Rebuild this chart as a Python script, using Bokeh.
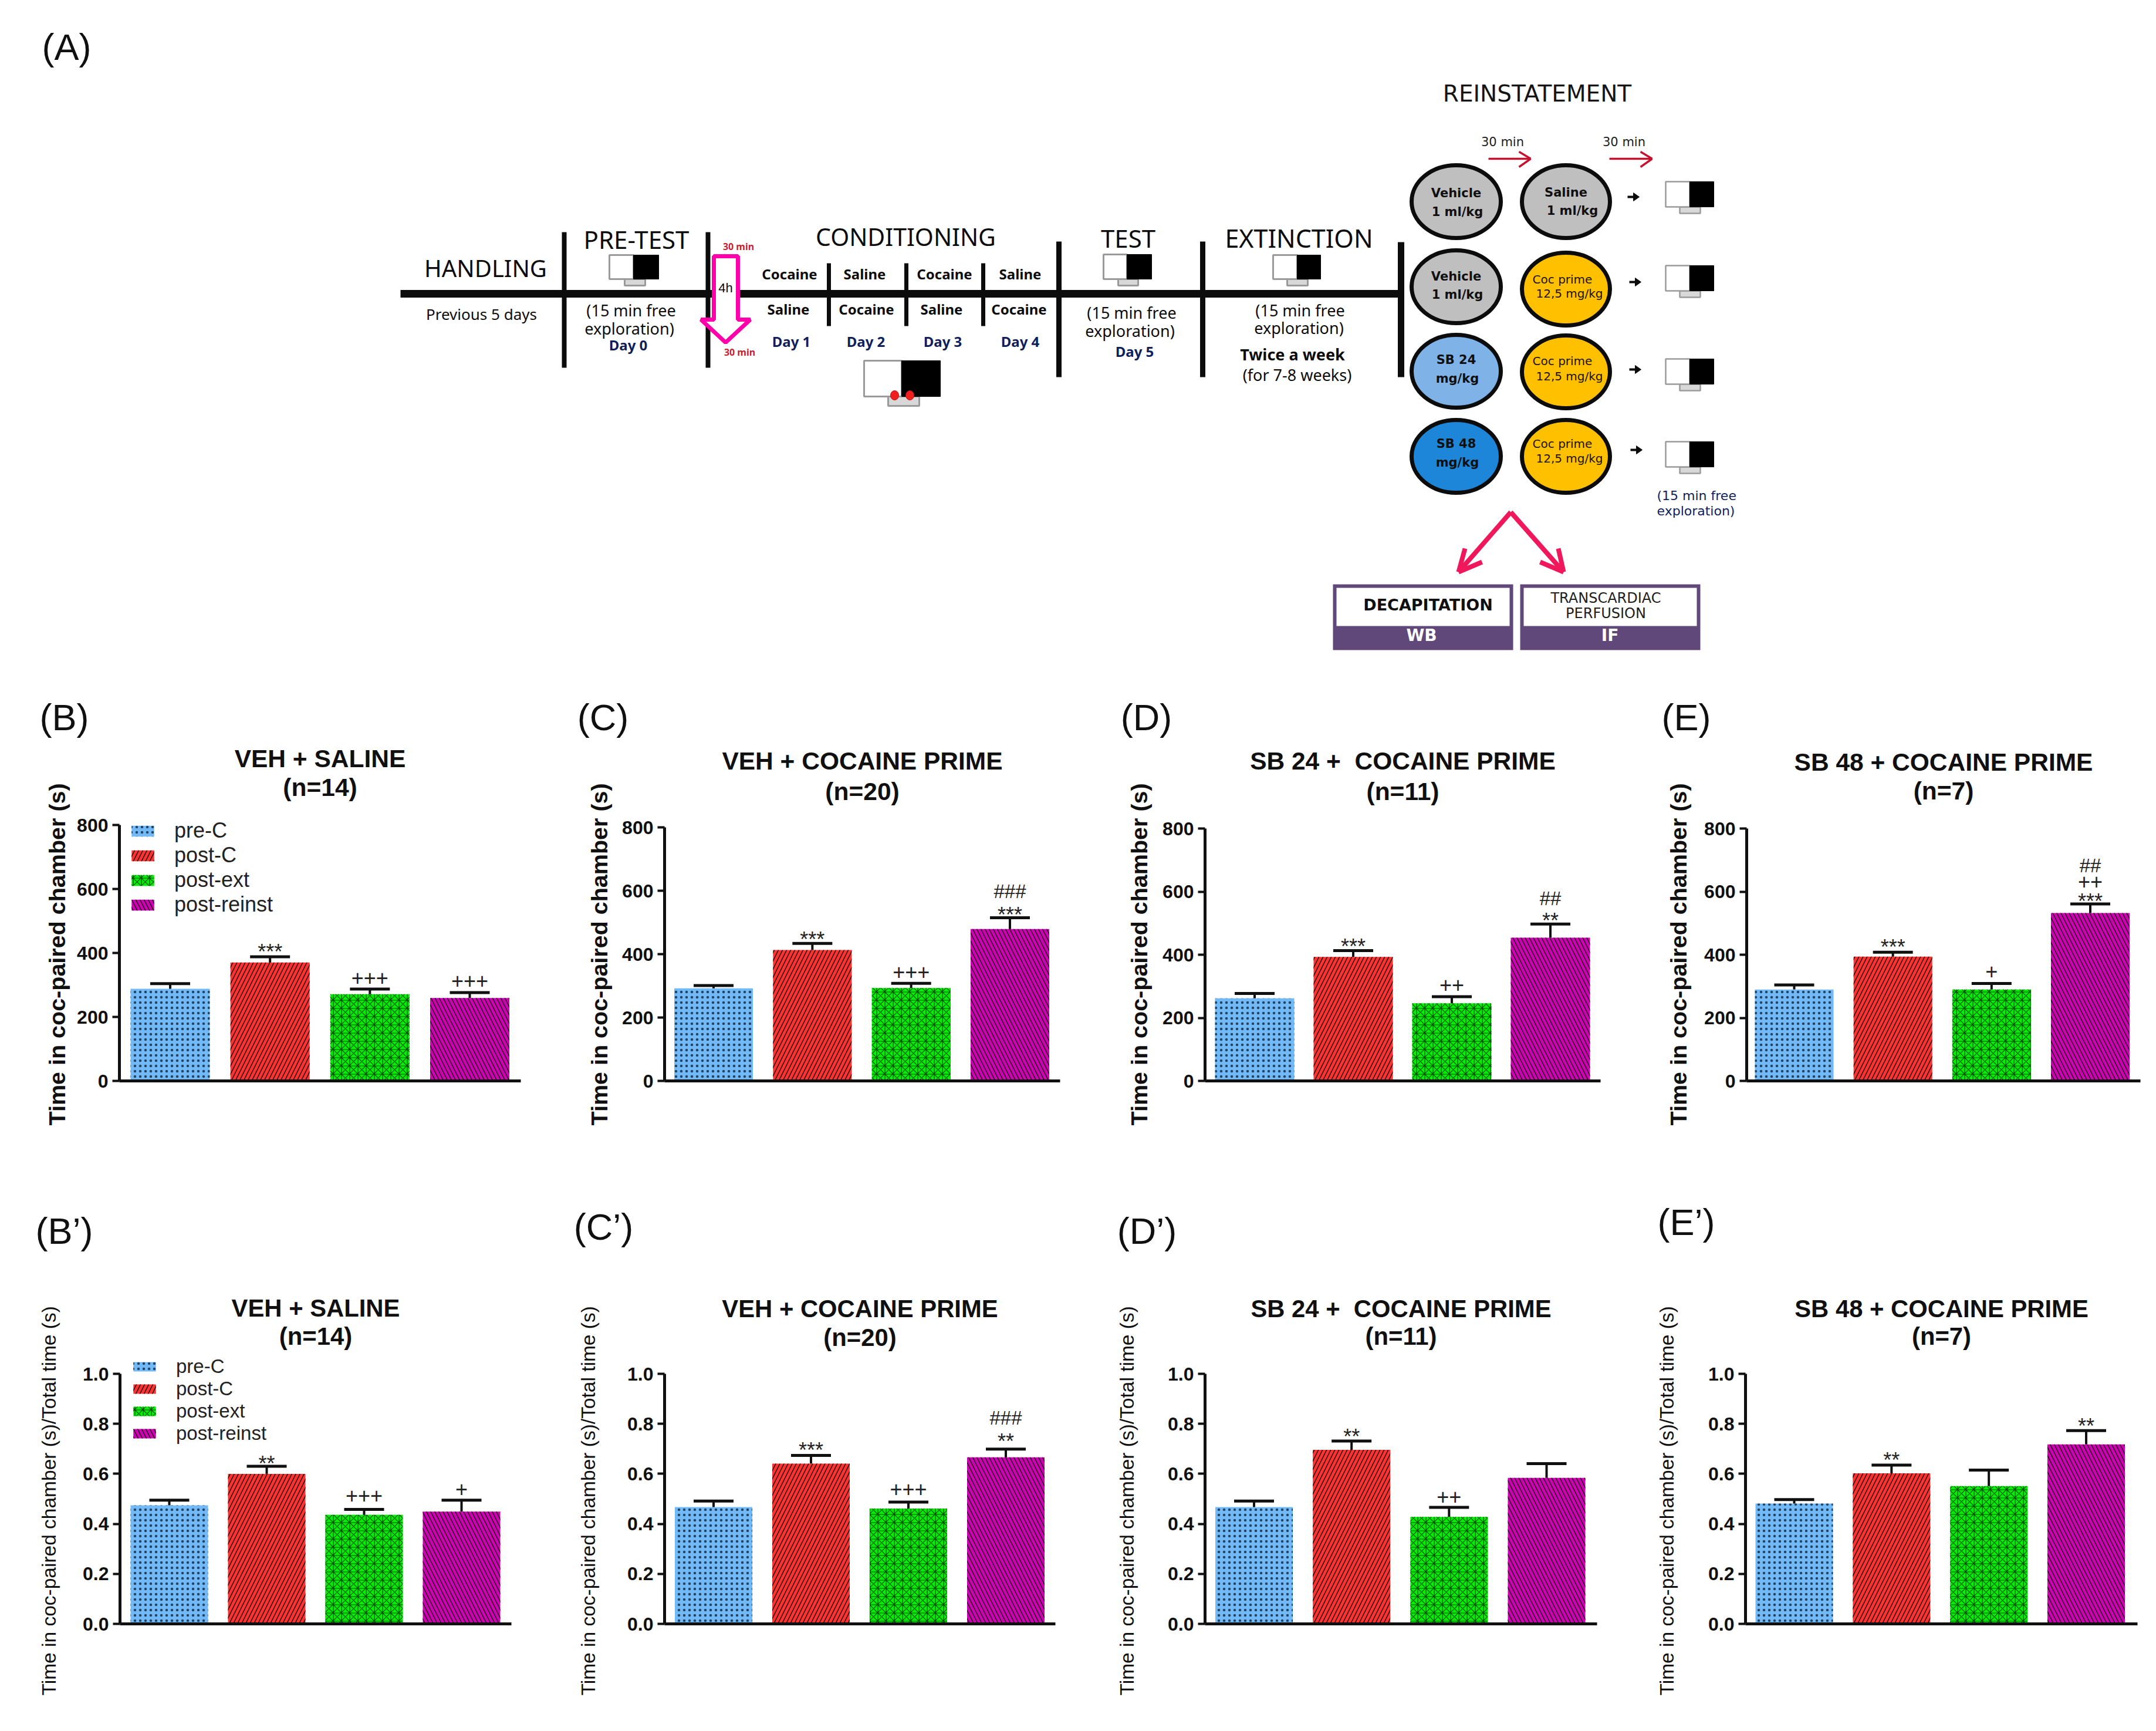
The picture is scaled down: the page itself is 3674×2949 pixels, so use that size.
from bokeh.plotting import figure
from bokeh.layouts import column, row
from bokeh.models import Range1d, NumeralTickFormatter, FixedTicker, Legend, Title
from bokeh.core.properties import value
from bokeh.embed import file_html
from bokeh.resources import INLINE

# ---------- data ----------
categories = ["pre-C", "post-C", "post-ext", "post-reinst"]
time_ticks = [0, 200, 400, 600, 800]
ratio_ticks = [0.0, 0.2, 0.4, 0.6, 0.8, 1.0]

b_mean = [288, 370, 271, 259]
b_top = [304, 388, 287, 276]
c_mean = [292, 413, 293, 479]
c_top = [301, 434, 308, 515]
d_mean = [262, 393, 246, 454]
d_top = [277, 413, 267, 497]
e_mean = [290, 394, 290, 532]
e_top = [304, 408, 309, 561]

bp_mean = [0.474, 0.600, 0.436, 0.449]
bp_top = [0.495, 0.630, 0.458, 0.495]
cp_mean = [0.467, 0.641, 0.461, 0.666]
cp_top = [0.491, 0.674, 0.487, 0.699]
dp_mean = [0.467, 0.696, 0.428, 0.584]
dp_top = [0.491, 0.731, 0.466, 0.641]
ep_mean = [0.481, 0.602, 0.551, 0.718]
ep_top = [0.497, 0.635, 0.615, 0.773]

# significance marks: (bar, text, pixel gap above the error cap)
b_sig = [(1, "***", 18), (2, "+++", 17), (3, "+++", 18)]
c_sig = [(1, "***", 16), (2, "+++", 17), (3, "***", 14), (3, "###", 45)]
d_sig = [(1, "***", 16), (2, "++", 18), (3, "**", 15), (3, "##", 44)]
e_sig = [(1, "***", 18), (2, "+", 18), (3, "***", 13), (3, "++", 36), (3, "##", 65)]
bp_sig = [(1, "**", 14), (2, "+++", 21), (3, "+", 17)]
cp_sig = [(1, "***", 18), (2, "+++", 20), (3, "**", 22), (3, "###", 53)]
dp_sig = [(1, "**", 17), (2, "++", 16)]
ep_sig = [(1, "**", 17), (3, "**", 17)]

# ---------- style ----------
SANS = "Liberation Sans"
FILL = ["#72B9F8", "#FF3232", "#00F000", "#CF00B4"]
HATCH = [
    dict(hatch_pattern="dot", hatch_scale=9, hatch_weight=1.0, hatch_color="#10283c", hatch_alpha=0.8),
    dict(hatch_pattern="right_diagonal_line", hatch_scale=14, hatch_weight=1.5, hatch_color="#200505", hatch_alpha=1.0),
    dict(hatch_pattern="criss_cross", hatch_scale=14, hatch_weight=1.2, hatch_color="#003000", hatch_alpha=0.9),
    dict(hatch_pattern="left_diagonal_line", hatch_scale=14, hatch_weight=1.5, hatch_color="#200518", hatch_alpha=1.0),
]
SIG_BASE = {"*": 9, "+": -2, "#": 0}

ROW1_TOP, ROW1_BOT = 1262, 1990
ROW2_TOP, ROW2_BOT = 2180, 2941
COL1 = [0, 940, 1860, 2780, 3666]
COL2 = [0, 900, 1820, 2740, 3666]


def panel(col, cols, row_top, row_bot, fl, fr, ft, fb, centers, bar_w, mean, top, sig, ymax, ticks,
          title, n, title_y, ylabel, ylabel_bold, ylabel_size, standoff, label_off, title_size,
          fmt=None, legend=None):
    left, right = cols[col], cols[col + 1]
    step = (centers[3] - centers[0]) / 3
    xlo = (fl - centers[0]) / step
    xhi = (fr - centers[0]) / step
    p = figure(width=right - left, height=row_bot - row_top,
               x_range=Range1d(xlo, xhi), y_range=Range1d(0, ymax * (fb - row_top) / (fb - ft)),
               output_backend="svg", toolbar_location=None,
               min_border_left=fl - left, min_border_right=right - fr,
               min_border_top=0, min_border_bottom=row_bot - fb)
    p.outline_line_color = None
    p.grid.visible = False
    p.background_fill_color = None
    p.border_fill_color = "white"

    p.xaxis.ticker = FixedTicker(ticks=[])
    p.xaxis.major_label_text_font_size = "0px"
    p.xaxis.axis_line_width = 5
    p.xaxis.axis_line_color = "#101010"
    p.xaxis.major_tick_line_color = None
    p.xaxis.minor_tick_line_color = None

    p.yaxis.ticker = FixedTicker(ticks=ticks)
    p.yaxis.bounds = (0, ymax)
    if fmt:
        p.yaxis.formatter = NumeralTickFormatter(format=fmt)
    p.yaxis.axis_line_width = 5
    p.yaxis.axis_line_color = "#101010"
    p.yaxis.major_tick_line_width = 4
    p.yaxis.major_tick_line_color = "#101010"
    p.yaxis.major_tick_out = 12
    p.yaxis.major_tick_in = 0
    p.yaxis.minor_tick_line_color = None
    p.yaxis.major_label_standoff = 7
    p.yaxis.major_label_text_font = SANS
    p.yaxis.major_label_text_font_style = "bold"
    p.yaxis.major_label_text_font_size = "32px"
    p.yaxis.major_label_text_color = "#101010"

    # y-axis title, anchored at the frame's lower edge
    p.add_layout(Title(text=ylabel, align="left", offset=label_off, standoff=standoff, text_font=SANS,
                       text_font_style="bold" if ylabel_bold else "normal",
                       text_font_size=f"{ylabel_size}px", text_color="#101010"), "left")

    width = bar_w / step
    items = []
    for i, cat in enumerate(categories):
        r = p.vbar(x=[i], top=[mean[i]], bottom=0, width=width, fill_color=FILL[i],
                   line_color=None, **HATCH[i])
        items.append((cat, [r]))
    cap = 34 / step
    xs = list(range(4))
    p.segment(x0=xs, y0=mean, x1=xs, y1=top, line_color="#101010", line_width=4)
    p.segment(x0=[x - cap for x in xs], y0=top, x1=[x + cap for x in xs], y1=top,
              line_color="#101010", line_width=5)

    for i, s, gap in sig:
        p.text(x=[i], y=[top[i]], text=[s], text_font=value(SANS), text_align="center",
               text_baseline="alphabetic", text_font_size="36px" if s[0] != "#" else "33px",
               text_color="#222222", y_offset=-(gap - SIG_BASE[s[0]]))

    cx = (xlo + xhi) / 2
    for t, y_px in zip((title, n), title_y):
        p.text(x=[cx], y=[(fb - y_px) * ymax / (fb - ft)], text=[t], text_font=value(SANS),
               text_font_style="bold", text_font_size=f"{title_size}px", text_color="#101010",
               text_align="center", text_baseline="middle")
    if legend:
        lg = Legend(items=items, location=legend["loc"], orientation="vertical",
                    glyph_width=48, glyph_height=legend["gh"], label_standoff=30,
                    spacing=0, padding=0, margin=0, border_line_color=None,
                    background_fill_alpha=0, label_text_font=SANS,
                    label_text_font_size=legend["fs"], label_text_color="#222222")
        p.add_layout(lg)
    return p


R1 = dict(cols=COL1, row_top=ROW1_TOP, row_bot=ROW1_BOT, ymax=800, ticks=time_ticks, label_off=-76,
          ylabel="Time in coc-paired chamber (s)", ylabel_bold=True, ylabel_size=39.5, title_size=42.5)
R2 = dict(cols=COL2, row_top=ROW2_TOP, row_bot=ROW2_BOT, ymax=1.0, ticks=ratio_ticks, fmt="0.0", label_off=-122,
          ylabel="Time in coc-paired chamber (s)/Total time (s)", ylabel_bold=False, ylabel_size=33.5,
          title_size=41.8)

pb = panel(0, fl=203, fr=887, ft=1405, fb=1841, centers=[289.5, 460, 629.5, 800], bar_w=135,
           mean=b_mean, top=b_top, sig=b_sig, title="VEH + SALINE", n="(n=14)", title_y=(1292, 1341),
           standoff=19, legend=dict(loc=(16, 279), gh=23, fs="36px"), **R1)
pc = panel(1, fl=1132, fr=1806, ft=1409, fb=1841, centers=[1215.5, 1384, 1552, 1720.5], bar_w=134,
           mean=c_mean, top=c_top, sig=c_sig, title="VEH + COCAINE PRIME", n="(n=20)", title_y=(1296, 1348),
           standoff=29, **R1)
pd_ = panel(2, fl=2053, fr=2727, ft=1411, fb=1841, centers=[2137.5, 2305.5, 2473, 2641.5], bar_w=135,
            mean=d_mean, top=d_top, sig=d_sig, title="SB 24 +\u00a0 COCAINE PRIME", n="(n=11)", title_y=(1296, 1348),
            standoff=32, **R1)
pe = panel(3, fl=2976, fr=3647, ft=1411, fb=1841, centers=[3057, 3225.5, 3393, 3561.5], bar_w=134,
           mean=e_mean, top=e_top, sig=e_sig, title="SB 48 + COCAINE PRIME", n="(n=7)", title_y=(1298, 1347),
           standoff=39, **R1)

pbp = panel(0, fl=204, fr=871, ft=2340, fb=2766, centers=[288, 454, 620, 786], bar_w=132,
            mean=bp_mean, top=bp_top, sig=bp_sig, title="VEH + SALINE", n="(n=14)", title_y=(2228, 2276),
            standoff=74, legend=dict(loc=(18, 305), gh=20, fs="33px"), **R2)
pcp = panel(1, fl=1132, fr=1798, ft=2340, fb=2766, centers=[1215.5, 1381.5, 1548.5, 1713.5], bar_w=132,
            mean=cp_mean, top=cp_top, sig=cp_sig, title="VEH + COCAINE PRIME", n="(n=20)", title_y=(2229, 2278),
            standoff=92, **R2)
pdp = panel(2, fl=2053, fr=2721, ft=2340, fb=2766, centers=[2136.5, 2302.5, 2469.5, 2635], bar_w=132,
            mean=dp_mean, top=dp_top, sig=dp_sig, title="SB 24 +\u00a0 COCAINE PRIME", n="(n=11)", title_y=(2229, 2276),
            standoff=97, **R2)
pep = panel(3, fl=2974, fr=3642, ft=2340, fb=2766, centers=[3057, 3223, 3388.5, 3554.5], bar_w=132,
            mean=ep_mean, top=ep_top, sig=ep_sig, title="SB 48 + COCAINE PRIME", n="(n=7)", title_y=(2229, 2276),
            standoff=99, **R2)

# ---------- protocol diagram (axes in page pixels) ----------
d = figure(width=3666, height=ROW1_TOP, x_range=Range1d(0, 3666), y_range=Range1d(ROW1_TOP, 0),
           output_backend="svg", toolbar_location=None, x_axis_location=None, y_axis_location=None,
           min_border=0)
d.outline_line_color = None
d.grid.visible = False

d2 = figure(width=3666, height=ROW2_TOP - ROW1_BOT, x_range=Range1d(0, 3666), y_range=Range1d(ROW2_TOP, ROW1_BOT),
            output_backend="svg", toolbar_location=None, x_axis_location=None, y_axis_location=None,
            min_border=0)
d2.outline_line_color = None
d2.grid.visible = False

BLK = "#0c0c0c"
NAVY = "#0f1f5c"
HEAD = "Noto Sans"
WIDE = "DejaVu Sans"


def txt(t, x, y, size, color=BLK, bold=False, font=HEAD, align="center", fig=None):
    (fig or d).text(x=[x], y=[y], text=[t], text_font=value(font), text_font_size=f"{size}px",
                    text_font_style="bold" if bold else "normal", text_color=color,
                    text_align=align, text_baseline="middle")


def chamber(xl, xm, xr, yt, yb, tl, tr, tb, lw=3):
    d.quad(left=[tl], right=[tr], top=[yb], bottom=[tb], fill_color="#d8d8d8", line_color="#9a9a9a", line_width=lw)
    d.quad(left=[xl], right=[xm], top=[yt], bottom=[yb], fill_color="white", line_color="#9a9a9a", line_width=lw)
    d.quad(left=[xm], right=[xr], top=[yt], bottom=[yb], fill_color="black", line_color="black", line_width=1)


# panel tags
for tag, x, y in (("(A)", 113, 79), ("(B)", 109, 1221), ("(C)", 1027, 1221), ("(D)", 1953, 1221), ("(E)", 2873, 1221)):
    txt(tag, x, y, 63, "#101010", False, SANS)
for tag, x, y in (("(B\u2019)", 109, 2096), ("(C\u2019)", 1028, 2089), ("(D\u2019)", 1954, 2096), ("(E\u2019)", 2873, 2081)):
    txt(tag, x, y, 63, "#101010", False, SANS, fig=d2)

# timeline
d.segment(x0=[682], y0=[500], x1=[2387], y1=[500], line_color=BLK, line_width=13)
d.segment(x0=[961, 1206], y0=[395, 395], x1=[961, 1206], y1=[626, 626], line_color=BLK, line_width=8)
d.segment(x0=[1804, 2049], y0=[411, 411], x1=[1804, 2049], y1=[642, 642], line_color=BLK, line_width=9)
d.segment(x0=[2387], y0=[412], x1=[2387], y1=[642], line_color=BLK, line_width=11)
d.segment(x0=[1412, 1544, 1675], y0=[448] * 3, x1=[1412, 1544, 1675], y1=[555] * 3, line_color=BLK, line_width=7)

txt("HANDLING", 827, 456, 40)
txt("PRE-TEST", 1084, 407, 42)
txt("CONDITIONING", 1543, 402, 41)
txt("TEST", 1922, 405, 42)
txt("EXTINCTION", 2213, 405, 43)
txt("Previous 5 days", 820, 534, 26)
for x, y1, y2, yd, dd in ((1075, 528, 559, 587, "Day 0"), (1928, 532, 563, 598, "Day 5")):
    txt("(15 min free", x, y1, 27)
    txt("exploration)", x - 3, y2, 27)
    txt(dd, x - 5 if dd == "Day 0" else x + 5, yd, 24, NAVY, True)
txt("(15 min free", 2215, 528, 27)
txt("exploration)", 2213, 558, 27)
txt("Twice a week", 2202, 603, 27, BLK, True)
txt("(for 7-8 weeks)", 2210, 638, 27)

for t, x in (("Cocaine", 1345), ("Saline", 1473), ("Cocaine", 1609), ("Saline", 1738)):
    txt(t, x, 466, 24, BLK, True)
for t, x in (("Saline", 1343), ("Cocaine", 1476), ("Saline", 1604), ("Cocaine", 1736)):
    txt(t, x, 526, 24, BLK, True)
for t, x in (("Day 1", 1348), ("Day 2", 1475), ("Day 3", 1606), ("Day 4", 1738)):
    txt(t, x, 581, 24, NAVY, True)

chamber(1038, 1079, 1122, 434, 475, 1064, 1099, 486)
chamber(1880, 1920, 1962, 433, 475, 1905, 1939, 486)
chamber(2169, 2210, 2250, 434, 475, 2193, 2228, 486)
chamber(1472, 1536, 1602, 614, 675, 1513, 1566, 691)
d.ellipse(x=[1524, 1550], y=[673, 673], width=14, height=16, fill_color="#f02020", line_color="#c01010")

# pink 4h arrow
d.patch(x=[1216, 1257, 1257, 1278, 1236, 1194, 1216, 1216], y=[436, 436, 544, 544, 583, 544, 544, 436],
        fill_color="white", line_color="#FF00AA", line_width=7)
txt("4h", 1236, 490, 22, BLK, False, SANS)
txt("30 min", 1258, 419, 16, "#c81e32", True)
txt("30 min", 1260, 599, 16, "#c81e32", True)

# reinstatement
txt("REINSTATEMENT", 2619, 159, 39, "#151515", False, WIDE)
txt("30 min", 2560, 241, 21, "#202020", False, WIDE)
txt("30 min", 2767, 241, 21, "#202020", False, WIDE)
RED = "#C4122E"
d.segment(x0=[2536, 2588, 2588, 2742, 2795, 2795], y0=[270, 258, 284, 270, 258, 284],
          x1=[2608, 2608, 2608, 2815, 2815, 2815], y1=[270, 270, 270, 270, 270, 270],
          line_color=RED, line_width=3.5)

oval_rows = [343, 488, 632, 777]
left_fill = ["#BFBFBF", "#BFBFBF", "#7FB2E6", "#1E86D8"]
right_fill = ["#BFBFBF", "#FFC000", "#FFC000", "#FFC000"]
d.ellipse(x=[2481] * 4, y=oval_rows, width=152, height=124, fill_color=left_fill, line_color=BLK, line_width=7)
d.ellipse(x=[2668] * 4, y=[343, 492, 633, 777], width=150, height=124, fill_color=right_fill, line_color=BLK, line_width=7)

for a, b, y1, y2 in (("Vehicle", "1 ml/kg", 328, 360), ("Vehicle", "1 ml/kg", 470, 501),
                     ("SB 24", "mg/kg", 612, 644), ("SB 48", "mg/kg", 755, 787)):
    txt(a, 2481, y1, 21, "#101010", True, WIDE)
    txt(b, 2483, y2, 21, "#101010", True, WIDE)
txt("Saline", 2668, 327, 21, "#101010", True, WIDE)
txt("1 ml/kg", 2679, 358, 21, "#101010", True, WIDE)
for y1, y2 in ((475, 499), (614, 640), (755, 780)):
    txt("Coc prime", 2662, y1, 20, "#201000", False, WIDE)
    txt("12,5 mg/kg", 2674, y2, 20, "#201000", False, WIDE)

for y, x0 in ((335, 2773), (480, 2776), (629, 2776), (766, 2778)):
    d.segment(x0=[x0], y0=[y], x1=[x0 + 12], y1=[y], line_color=BLK, line_width=4)
    d.patch(x=[x0 + 10, x0 + 20, x0 + 10], y=[y - 7, y, y + 7], fill_color=BLK, line_color=BLK)
for y in (309, 452, 611, 752):
    chamber(2838, 2879, 2920, y, y + 43, 2862, 2897, y + 54, 2.5)
txt("(15 min free", 2823, 844, 22, "#0f1f5c", False, WIDE, "left")
txt("exploration)", 2823, 870, 22, "#0f1f5c", False, WIDE, "left")

PINK = "#F0185C"
d.segment(x0=[2574, 2574, 2496, 2525, 2655, 2624], y0=[872, 872, 934, 957, 934, 957],
          x1=[2485, 2664, 2485, 2485, 2664, 2664], y1=[974] * 6, line_color=PINK, line_width=8)

PURPLE = "#60497A"
d.quad(left=[2271, 2590], right=[2578, 2897], top=[995, 995], bottom=[1107, 1107], fill_color=PURPLE, line_color=None)
d.quad(left=[2277, 2596], right=[2572, 2891], top=[1001, 1001], bottom=[1066, 1066], fill_color="white", line_color=None)
txt("DECAPITATION", 2433, 1030, 27, "#101010", True, WIDE)
txt("TRANSCARDIAC", 2736, 1018, 24, "#202020", False, WIDE)
txt("PERFUSION", 2736, 1044, 24, "#202020", False, WIDE)
txt("WB", 2422, 1082, 28, "white", True, WIDE)
txt("IF", 2743, 1082, 28, "white", True, WIDE)

page = column(d, row(pb, pc, pd_, pe), d2, row(pbp, pcp, pdp, pep), spacing=0)
open("out.html", "w").write(file_html(page, INLINE))
